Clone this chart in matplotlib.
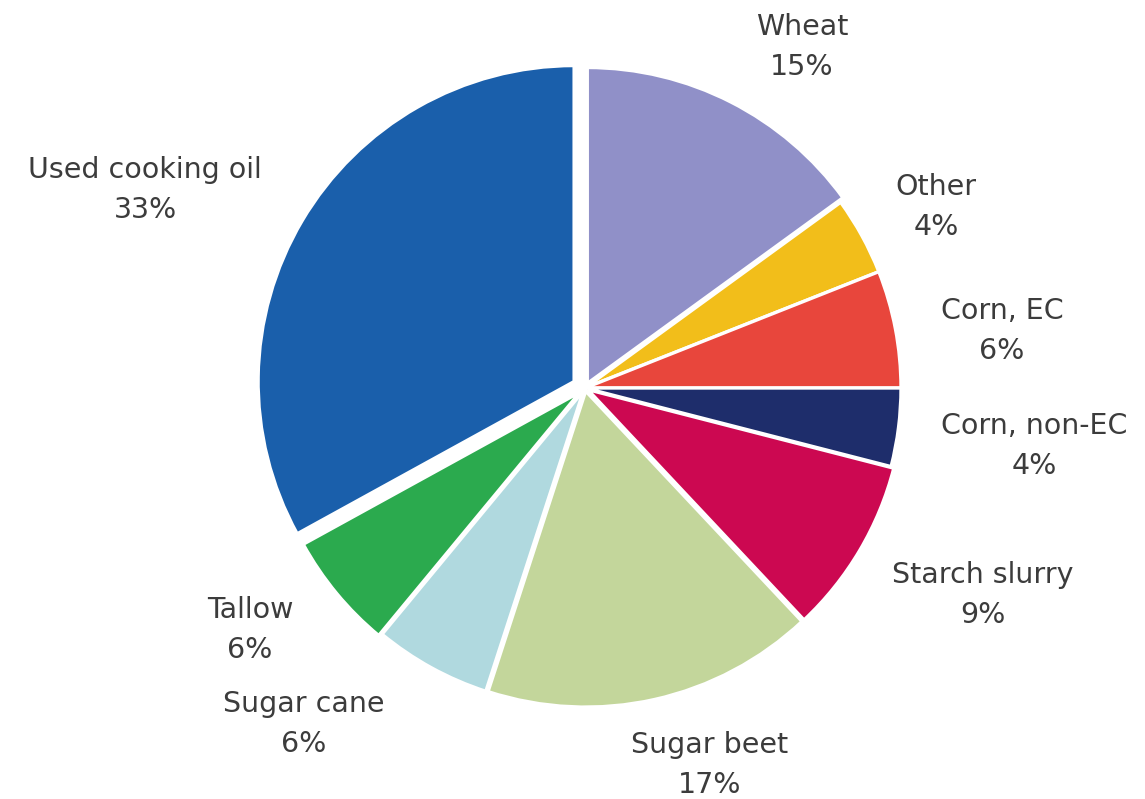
import matplotlib
matplotlib.use("Agg")
import matplotlib.pyplot as plt

categories = ["Wheat", "Other", "Corn, EC", "Corn, non-EC", "Starch slurry",
              "Sugar beet", "Sugar cane", "Tallow", "Used cooking oil"]
shares = [15, 4, 6, 4, 9, 17, 6, 6, 33]
colors = ["#9090C8", "#F2BE1A", "#E8463C", "#1E2D6B", "#CC0851",
          "#C3D69B", "#B0D9DF", "#2BAA4E", "#1A5FAB"]

R = 316.0
# wedge offsets as a fraction of the radius
explode_frac = [0.016, 0.0, 0.0, 0.0, 0.01, 0.01, 0.01, 0.02, 0.04]

# label anchor positions in pixels (from top-left)
label_pos = {
    "Wheat": (802, 47),
    "Other": (936, 207),
    "Corn, EC": (1002, 331),
    "Corn, non-EC": (1034, 446),
    "Starch slurry": (983, 595),
    "Sugar beet": (710, 765),
    "Sugar cane": (304, 724),
    "Tallow": (250, 630),
    "Used cooking oil": (145, 190),
}

W, H = 1145, 799
fig = plt.figure(figsize=(W / 100, H / 100), dpi=100)
ax = fig.add_axes([0, 0, 1, 1])
ax.pie(shares, colors=colors, explode=[e * R for e in explode_frac],
       startangle=90, counterclock=False,
       center=(585, H - 388), radius=R,
       wedgeprops=dict(edgecolor="white", linewidth=2.4))
ax.set_xlim(0, W)
ax.set_ylim(0, H)
ax.set_aspect("equal")
ax.axis("off")

for cat, val in zip(categories, shares):
    x, y = label_pos[cat]
    ax.text(x, H - y, f"{cat}\n{val}%", ha="center", va="center",
            fontsize=20.5, color="#3c3c3c", family="DejaVu Sans",
            linespacing=1.55)

fig.savefig("out.png", dpi=100, facecolor="white")
